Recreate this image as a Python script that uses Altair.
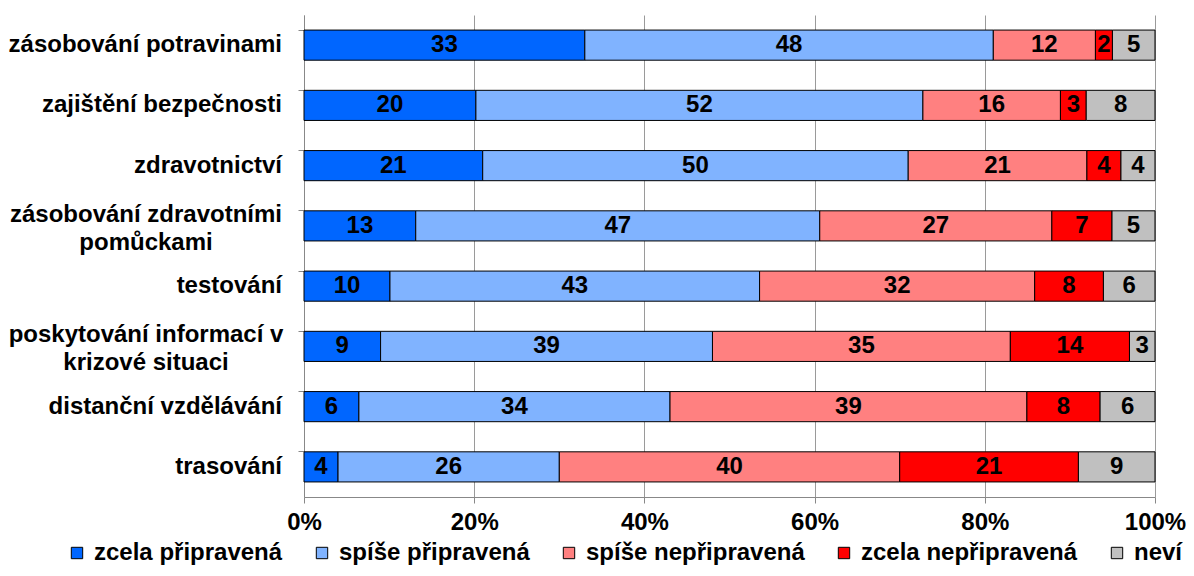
import altair as alt
import pandas as pd

categories = [
    "zásobování potravinami",
    "zajištění bezpečnosti",
    "zdravotnictví",
    "zásobování zdravotními pomůckami",
    "testování",
    "poskytování informací v krizové situaci",
    "distanční vzdělávání",
    "trasování",
]
cat_labels = [
    "zásobování potravinami",
    "zajištění bezpečnosti",
    "zdravotnictví",
    "zásobování zdravotními\npomůckami",
    "testování",
    "poskytování informací v\nkrizové situaci",
    "distanční vzdělávání",
    "trasování",
]
series = ["zcela připravená", "spíše připravená", "spíše nepřipravená", "zcela nepřipravená", "neví"]
colors = ["#0066FF", "#80B3FF", "#FF8080", "#FF0000", "#C0C0C0"]

zcela_pripravena = [33, 20, 21, 13, 10, 9, 6, 4]
spise_pripravena = [48, 52, 50, 47, 43, 39, 34, 26]
spise_nepripravena = [12, 16, 21, 27, 32, 35, 39, 40]
zcela_nepripravena = [2, 3, 4, 7, 8, 14, 8, 21]
nevi = [5, 8, 4, 5, 6, 3, 6, 9]

values = [zcela_pripravena, spise_pripravena, spise_nepripravena, zcela_nepripravena, nevi]

rows = []
for si, (s, vals) in enumerate(zip(series, values)):
    for c, v in zip(categories, vals):
        rows.append({"cat": c, "series": s, "order": si, "value": v})
df = pd.DataFrame(rows)

lab_df = pd.DataFrame({
    "cat": categories,
    "label": cat_labels,
    "multi": ["\n" in l for l in cat_labels],
})

FONT = "Liberation Sans"
FS = 24
W, H = 851, 482
TOTAL_H = 560

y_enc = alt.Y(
    "cat:N",
    sort=categories,
    scale=alt.Scale(paddingInner=0.5, paddingOuter=0.25),
    axis=alt.Axis(
        title=None, labels=False, bandPosition=0, tickSize=6,
        domainColor="#888888", tickColor="#888888", grid=False,
    ),
)

base = alt.Chart(df).transform_stack(
    stack="value", groupby=["cat"], sort=[alt.SortField("order")],
    as_=["v0", "v1"], offset="normalize",
).transform_calculate(mid="(datum.v0 + datum.v1) / 2")

bars = base.mark_bar(stroke="black", strokeWidth=1).encode(
    y=y_enc,
    x=alt.X(
        "v0:Q",
        scale=alt.Scale(domain=[0, 1], nice=False),
        axis=alt.Axis(
            title=None, format=".0%", values=[0, 0.2, 0.4, 0.6, 0.8, 1.0],
            grid=True, gridColor="#9a9a9a", gridWidth=1,
            domainColor="#888888", tickColor="#888888", tickSize=6,
            labelFontSize=FS, labelFontWeight="bold", labelColor="black",
            labelFont=FONT, labelPadding=7, labelFlush=False,
        ),
    ),
    x2="v1:Q",
    color=alt.Color(
        "series:N",
        scale=alt.Scale(domain=series, range=colors),
        legend=alt.Legend(
            title=None, orient="none", legendX=-239, legendY=526,
            direction="horizontal", padding=0,
            symbolType="square", symbolSize=130, symbolStrokeColor="black",
            symbolStrokeWidth=1, symbolOpacity=1,
            labelFontSize=FS, labelFontWeight="bold", labelFont=FONT,
            labelColor="black", columnPadding=27, labelOffset=5, labelLimit=0,
        ),
    ),
)

texts = base.mark_text(
    font=FONT, fontSize=FS, fontWeight="bold", color="black", baseline="middle"
).encode(
    y=alt.Y("cat:N", sort=categories),
    x=alt.X("mid:Q"),
    text="value:Q",
)

single_labels = alt.Chart(lab_df).transform_filter("!datum.multi").mark_text(
    font=FONT, fontSize=FS, fontWeight="bold", color="black",
    align="right", baseline="middle",
).encode(
    y=alt.Y("cat:N", sort=categories),
    x=alt.value(-22),
    text="label:N",
)

multi_labels = alt.Chart(lab_df).transform_filter("datum.multi").mark_text(
    font=FONT, fontSize=FS, fontWeight="bold", color="black",
    align="center", baseline="middle", lineBreak="\n", lineHeight=28, dy=-11,
).encode(
    y=alt.Y("cat:N", sort=categories),
    x=alt.value(-158),
    text="label:N",
)

chart = alt.layer(bars, texts, single_labels, multi_labels).properties(
    width=W, height=H,
    autosize=alt.AutoSizeParams(type="none"),
    padding={"left": 296, "top": 7, "right": 1178 - 296 - W, "bottom": TOTAL_H - 7 - H},
).configure_view(stroke=None).configure_axis(labelFont=FONT)

chart.save("out.html", embed_options={"renderer": "svg", "actions": False})
